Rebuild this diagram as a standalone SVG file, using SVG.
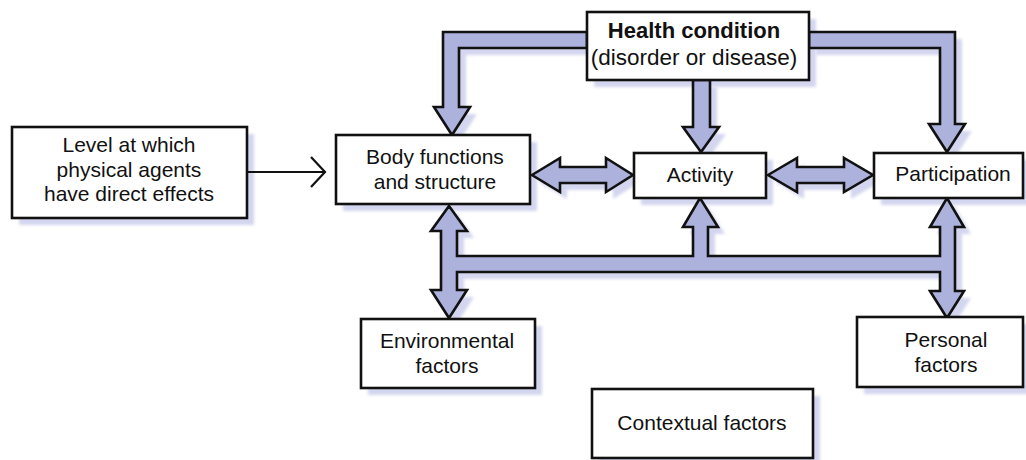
<svg xmlns="http://www.w3.org/2000/svg" width="1026" height="460" viewBox="0 0 1026 460">
<style>
.box{fill:#fff;stroke:#111;stroke-width:2.6}
.sh{fill:#d3d6ee;stroke:none;filter:url(#blur)}
.arr{fill:#adb2dc;stroke:#111;stroke-width:2.6;stroke-linejoin:miter}
.ln{fill:none;stroke:#111;stroke-width:2.2}
text{font-family:"Liberation Sans",Arial,sans-serif;font-size:21px;fill:#111;text-anchor:middle}
.b{font-weight:bold;font-size:22px}
.hc{font-size:22.5px}
</style>
<defs>
<filter id="blur" x="-10%" y="-10%" width="120%" height="120%"><feGaussianBlur stdDeviation="1.5"/></filter>
<polygon id="a1" points="587,32 443,32 443,107 434,107 452,135 470,107 459,107 459,48 587,48"/>
<polygon id="a2" points="693,80 693,127 683,127 701,152 719,127 710,127 710,80"/>
<polygon id="a3" points="809,32 955,32 955,124 965,124 947,152 929,124 940,124 940,48 809,48"/>
<polygon id="a4" points="532,175 560,158 560,167 606,167 606,158 633,175 606,192 606,183 560,183 560,192"/>
<polygon id="a5" points="768,175 797,158 797,167 844,167 844,158 873,175 844,192 844,183 797,183 797,192"/>
<polygon id="a6" points="449,206 467,231 457,231 457,256 693,256 693,227 683,227 700,198 718,227 708,227 708,256 940,256 940,227 930,227 947,198 964,227 955,227 955,291 964,291 947,318 930,291 940,291 940,272 457,272 457,290 467,290 449,318 431,290 441,290 441,231 431,231"/>
</defs>
<g id="shadows">
<rect class="sh" x="594" y="19" width="222" height="68"/>
<rect class="sh" x="19" y="134" width="235" height="91"/>
<rect class="sh" x="343" y="142" width="194" height="69"/>
<rect class="sh" x="641" y="160" width="132" height="45"/>
<rect class="sh" x="881" y="160" width="149" height="45"/>
<rect class="sh" x="368" y="326" width="174" height="69"/>
<rect class="sh" x="864" y="324" width="166" height="70"/>
<rect class="sh" x="599" y="396" width="221" height="69"/>
<use href="#a1" class="sh" transform="translate(7,7)"/>
<use href="#a2" class="sh" transform="translate(7,7)"/>
<use href="#a3" class="sh" transform="translate(7,7)"/>
<use href="#a4" class="sh" transform="translate(7,7)"/>
<use href="#a5" class="sh" transform="translate(7,7)"/>
<use href="#a6" class="sh" transform="translate(7,7)"/>
</g>
<g id="connectors">
<use href="#a1" class="arr"/>
<use href="#a2" class="arr"/>
<use href="#a3" class="arr"/>
<use href="#a4" class="arr"/>
<use href="#a5" class="arr"/>
<use href="#a6" class="arr"/>
<line class="ln" x1="247" y1="172" x2="324" y2="172"/>
<polyline class="ln" points="311,157 325,172 311,187"/>
</g>
<g id="health-condition">
<rect class="box" x="587" y="12" width="222" height="68"/>
<text class="b" x="694" y="38">Health condition</text>
<text class="hc" x="694" y="65">(disorder or disease)</text>
</g>
<g id="level">
<rect class="box" x="12" y="127" width="235" height="91"/>
<text x="129" y="152">Level at which</text>
<text x="129" y="176.5">physical agents</text>
<text x="129" y="201">have direct effects</text>
</g>
<g id="body-functions">
<rect class="box" x="336" y="135" width="194" height="69"/>
<text x="435" y="164">Body functions</text>
<text x="435" y="189">and structure</text>
</g>
<g id="activity">
<rect class="box" x="634" y="153" width="132" height="45"/>
<text x="700" y="182">Activity</text>
</g>
<g id="participation">
<rect class="box" x="874" y="153" width="149" height="45"/>
<text x="953" y="181">Participation</text>
</g>
<g id="environmental">
<rect class="box" x="361" y="319" width="174" height="69"/>
<text x="447" y="348">Environmental</text>
<text x="447" y="373">factors</text>
</g>
<g id="personal">
<rect class="box" x="857" y="317" width="166" height="70"/>
<text x="946" y="347">Personal</text>
<text x="946" y="372">factors</text>
</g>
<g id="contextual">
<rect class="box" x="592" y="389" width="221" height="69"/>
<text x="702" y="430">Contextual factors</text>
</g>
</svg>
